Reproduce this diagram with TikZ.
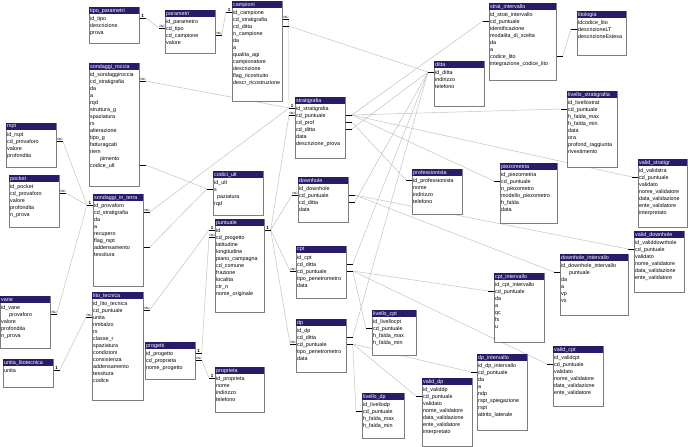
\documentclass[tikz,border=0pt]{standalone}
\usepackage{fontspec}
\newfontfamily\dbfont{Liberation Sans}
\usetikzlibrary{calc, backgrounds}
\definecolor{hdrblue}{RGB}{38,28,105}
\definecolor{boxgray}{RGB}{125,125,125}
\definecolor{relgray}{RGB}{190,190,190}

\begin{document}
\begin{tikzpicture}[
  x=1pt, y=-1pt,
  font=\dbfont\fontsize{5.4}{7}\selectfont,
  tbody/.style={draw=boxgray, line width=0.7pt, fill=white, inner sep=0pt, anchor=north west},
  thead/.style={fill=hdrblue, text=white, inner xsep=1pt, inner ysep=0pt, minimum height=7pt, anchor=north west, align=left},
  tfield/.style={inner xsep=1pt, inner ysep=1.5pt, anchor=north west, align=left},
  stub/.style={line width=1pt, black},
  rel/.style={relgray, line width=0.45pt},
  mk/.style={font=\dbfont\bfseries\fontsize{4.5}{5}\selectfont, inner sep=0.3pt},
]
\useasboundingbox (0,0) rectangle (688,447);

% Tables: name / x / y / width / height / title / fields
\foreach \n/\x/\y/\w/\h/\ti/\fl [evaluate=\w as \tw using \w-2] in {
  tipo/89/7/50/36/tipo\_parametri/{id\_tipo\\descrizione\\prova},
  param/165/10/50/43/parametri/{id\_parametro\\cd\_tipo\\cd\_campione\\valore},
  camp/232/1/50/100/campioni/{id\_campione\\cd\_stratigrafia\\cd\_ditta\\n\_campione\\da\\a\\qualita\_agi\\campionatore\\descrizione\\flag\_ricostruito\\descr\_ricostruzione},
  sroccia/89/63/50/123/sondaggi\_roccia/{id\_sondaggiroccia\\cd\_stratigrafia\\da\\a\\rqd\\struttura\_g\\spaziatura\\rs\\alterazione\\tipo\_g\\fatturagcab\\riem\\\hspace{10pt}pimento\\codice\_ult},
  rspt/6/123/50/44/rspt/{id\_rspt\\cd\_provaforo\\valore\\profondita},
  pocket/9/175/50/52/pocket/{id\_pocket\\cd\_provaforo\\valore\\profondita\\n\_prova},
  sterra/93/194/50/92/sondaggi\_in\_terra/{id\_provaforo\\cd\_stratigrafia\\da\\a\\recupero\\flag\_rspt\\addensamento\\tessitura},
  codici/213/171/50/44/codici\_ult/{id\_ult\\s\\\hspace{3pt}paziatura\\rqd},
  punt/215/219/49/93/puntuale/{id\\cd\_progetto\\latitudine\\longitudine\\piano\_campagna\\cd\_comune\\frazione\\localita\\ctr\_n\\nome\_originale},
  strat/295/97/50/61/stratigrafia/{id\_stratigrafia\\cd\_puntuale\\cd\_prof\\cd\_ditta\\data\\descrizione\_prova},
  ditta/434/61/50/45/ditta/{id\_ditta\\indirizzo\\telefono},
  sinterv/489/3/67/77/strat\_intervallo/{id\_strat\_intervallo\\cd\_puntuale\\identificazione\\modalita\_di\_scelta\\da\\a\\codice\_lito\\integrazione\_codice\_lito},
  lito/577/11/49/44/litologia/{idcodice\_lito\\descrizioneLT\\descrizioneEstesa},
  livstrat/567/91/50/76/livello\_stratigrafia/{id\_livellostrat\\cd\_puntuale\\h\_falda\_max\\h\_falda\_min\\data\\ora\\profond\_raggiunta\\rivestimento},
  downhole/298/177/50/45/downhole/{id\_downhole\\cd\_puntuale\\cd\_ditta\\data},
  prof/412/169/50/45/professionista/{id\_professionista\\nome\\indirizzo\\telefono},
  piezo/500/163/57/60/piezometria/{id\_piezometria\\cd\_puntuale\\n\_piezometro\\modello\_piezometro\\h\_falda\\data},
  vstrat/638/159/49/68/valid\_stratigr/{id\_validstra\\cd\_puntuale\\validato\\nome\_validatore\\data\_validazione\\ente\_validatore\\interpretato},
  vdown/634/231/50/61/valid\_downhole/{id\_validdownhole\\cd\_puntuale\\validato\\nome\_validatore\\data\_validazione\\ente\_validatore},
  dinterv/560/254/68/61/downhole\_intervallo/{id\_downhole\_intervallo\\\hspace{8pt}puntuale\\da\\a\\vp\\vs},
  cpt/296/246/50/52/cpt/{id\_cpt\\cd\_ditta\\cd\_puntuale\\tipo\_penetrometro\\data},
  cptint/494/273/50/69/cpt\_intervallo/{id\_cpt\_intervallo\\cd\_puntuale\\da\\a\\qc\\fs\\u},
  dp/296/319/50/53/dp/{id\_dp\\cd\_ditta\\cd\_puntuale\\tipo\_penetrometro\\data},
  livcpt/372/310/44/45/livello\_cpt/{id\_livellocpt\\cd\_puntuale\\h\_falda\_max\\h\_falda\_min},
  livdp/362/393/42/45/livello\_dp/{id\_livellodp\\cd\_puntuale\\h\_falda\_max\\h\_falda\_min},
  vdp/422/378/50/68/valid\_dp/{id\_validdp\\cd\_puntuale\\validato\\nome\_validatore\\data\_validazione\\ente\_validatore\\interpretato},
  dpint/477/354/50/76/dp\_intervallo/{id\_dp\_intervallo\\cd\_puntuale\\da\\a\\ndp\\rspt\_spiegazione\\rspt\\attrito\_laterale},
  vcpt/553/346/50/60/valid\_cpt/{id\_validcpt\\cd\_puntuale\\validato\\nome\_validatore\\data\_validazione\\ente\_validatore},
  vane/0/296/50/52/vane/{id\_vane\\\hspace{8pt}provaforo\\valore\\profondita\\n\_prova},
  unita/3/359/50/28/unita\_litotecnica/{unita},
  litotec/92/292/51/108/lito\_tecnica/{id\_lito\_tecnica\\cd\_puntuale\\unita\\rimbalzo\\rs\\classe\_r\\spaziatura\\condizioni\\consistenza\\addensamento\\tessitura\\codice},
  prog/145/342/50/37/progetti/{id\_progetto\\cd\_proprieta\\nome\_progetto},
  propr/215/367/49/45/proprieta/{id\_proprieta\\nome\\indirizzo\\telefono}%
}{
  \node[tbody, minimum width=\w, minimum height=\h] (\n) at (\x,\y) {};
  \node[thead, text width=\tw pt] (\n-t) at (\n.north west) {\ti};
  \node[tfield] (\n-f) at (\n-t.south west) {\fl};
}

% Field stubs: table / side / row / length / mark
\foreach \tb/\sd/\rw/\dx/\mkt in {
  tipo/east/1/6/1, param/west/2/-6/$\infty$, param/east/3/6/$\infty$,
  camp/west/1/-6/1, camp/east/2/6/$\infty$, camp/east/3/6/{},
  sroccia/east/2/6/$\infty$, sroccia/east/14/6/{},
  rspt/east/2/6/$\infty$, pocket/east/2/6/$\infty$, vane/east/2/6/$\infty$,
  sterra/west/1/-6/1, sterra/east/2/6/$\infty$, sterra/east/7/6/{},
  codici/west/2/-6/{}, unita/east/1/6/1,
  litotec/west/3/-6/$\infty$, litotec/east/2/6/$\infty$,
  prog/east/1/6/1, prog/east/2/6/$\infty$, propr/west/1/-6/1,
  punt/west/1/-6/1, punt/west/2/-6/$\infty$, punt/east/1/6/1,
  strat/west/1/-6/1, strat/west/2/-6/$\infty$,
  strat/east/2/6/{}, strat/east/3/6/{}, strat/east/4/6/{},
  ditta/west/1/-6/{}, sinterv/west/2/-6/{}, sinterv/east/7/6/{},
  lito/west/2/-6/{}, livstrat/west/2/-6/{},
  downhole/west/2/-6/$\infty$, downhole/east/2/6/{}, downhole/east/3/6/{},
  prof/west/1/-6/{}, piezo/west/2/-6/{}, vstrat/west/2/-6/{},
  vdown/west/2/-6/{}, dinterv/west/2/-6/{},
  cpt/west/3/-6/$\infty$, cpt/east/2/6/{}, cpt/east/3/6/{},
  cptint/west/2/-6/{}, vcpt/west/2/-6/{}, livcpt/west/2/-6/{},
  dp/west/3/-6/$\infty$, dp/east/2/6/{}, dp/east/3/6/{},
  livdp/west/2/-6/{}, vdp/west/2/-6/{}, dpint/west/2/-6/{}%
}{
  \draw[stub] ($(\tb.north \sd)+(0,{4+7*\rw})$) -- ++(\dx,0)
    node[mk, midway, above] {\mkt} coordinate (\tb-\sd\rw);
}

% Relationships, behind the tables
\begin{pgfonlayer}{background}
  \fill[white] (0,0) rectangle (688,447);
  \foreach \ea/\eb in {
    tipo-east1/param-west2, param-east3/camp-west1,
    camp-east2/strat-west1, camp-east3/ditta-west1,
    sroccia-east2/strat-west1, sroccia-east14/codici-west2,
    rspt-east2/sterra-west1, pocket-east2/sterra-west1, vane-east2/sterra-west1,
    sterra-east2/strat-west1, sterra-east7/codici-west2,
    unita-east1/litotec-west3, litotec-east2/punt-west1,
    prog-east1/punt-west2, prog-east2/propr-west1,
    punt-east1/strat-west2, punt-east1/downhole-west2,
    punt-east1/cpt-west3, punt-east1/dp-west3,
    strat-east2/sinterv-west2, strat-east2/livstrat-west2,
    strat-east2/vstrat-west2, strat-east2/piezo-west2,
    strat-east3/prof-west1, strat-east4/ditta-west1,
    sinterv-east7/lito-west2,
    downhole-east3/ditta-west1, downhole-east2/vdown-west2, downhole-east2/dinterv-west2,
    cpt-east2/ditta-west1, cpt-east3/cptint-west2, cpt-east3/vcpt-west2, cpt-east3/livcpt-west2,
    dp-east2/ditta-west1, dp-east3/livdp-west2, dp-east3/vdp-west2, dp-east3/dpint-west2%
  }{
    \draw[rel] (\ea) -- (\eb);
  }
\end{pgfonlayer}
\end{tikzpicture}
\end{document}
